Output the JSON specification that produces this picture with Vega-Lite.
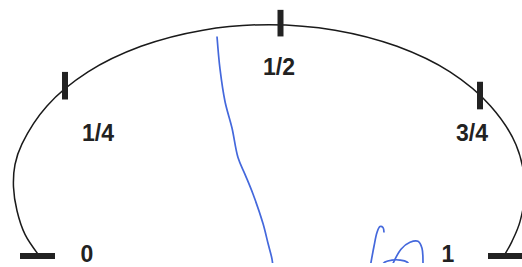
{
  "$schema": "https://vega.github.io/schema/vega-lite/v6.json",
  "width": 522,
  "height": 267,
  "autosize": {"type": "fit", "contains": "padding"},
  "padding": 0,
  "background": "white",
  "config": {"view": {"stroke": null}},
  "datasets": {
    "arc": [
      {"o": 1, "x": 38, "y": 258}, {"o": 2, "x": 25, "y": 238}, {"o": 3, "x": 17, "y": 214},
      {"o": 4, "x": 13.5, "y": 190}, {"o": 5, "x": 15, "y": 167}, {"o": 6, "x": 22, "y": 146},
      {"o": 7, "x": 47, "y": 107.5},
      {"o": 8, "x": 88, "y": 73}, {"o": 9, "x": 141, "y": 47}, {"o": 10, "x": 203, "y": 30.6},
      {"o": 11, "x": 269, "y": 25}, {"o": 12, "x": 335, "y": 30.6}, {"o": 13, "x": 397, "y": 47},
      {"o": 14, "x": 450, "y": 73}, {"o": 15, "x": 490.5, "y": 107.5}, {"o": 16, "x": 516, "y": 147},
      {"o": 17, "x": 525, "y": 190}, {"o": 18, "x": 520, "y": 225}, {"o": 19, "x": 512, "y": 245},
      {"o": 20, "x": 505, "y": 258}
    ],
    "pen": [
      {"s": "a", "o": 1, "x": 217, "y": 37}, {"s": "a", "o": 2, "x": 220, "y": 70},
      {"s": "a", "o": 3, "x": 225, "y": 103}, {"s": "a", "o": 4, "x": 232, "y": 130},
      {"s": "a", "o": 5, "x": 238, "y": 160}, {"s": "a", "o": 6, "x": 245, "y": 177},
      {"s": "a", "o": 7, "x": 253, "y": 197}, {"s": "a", "o": 8, "x": 263, "y": 227},
      {"s": "a", "o": 9, "x": 268, "y": 247}, {"s": "a", "o": 10, "x": 272, "y": 263},
      {"s": "a", "o": 11, "x": 273, "y": 272},
      {"s": "b", "o": 1, "x": 370, "y": 272}, {"s": "b", "o": 2, "x": 374, "y": 250},
      {"s": "b", "o": 3, "x": 377, "y": 236}, {"s": "b", "o": 4, "x": 380, "y": 230},
      {"s": "b", "o": 5, "x": 383, "y": 231}, {"s": "b", "o": 6, "x": 384, "y": 236},
      {"s": "c", "o": 1, "x": 391, "y": 272}, {"s": "c", "o": 2, "x": 401, "y": 253},
      {"s": "c", "o": 3, "x": 410, "y": 246}, {"s": "c", "o": 4, "x": 418, "y": 245},
      {"s": "c", "o": 5, "x": 422, "y": 252}, {"s": "c", "o": 6, "x": 423, "y": 267},
      {"s": "c", "o": 7, "x": 423, "y": 272},
      {"s": "d", "o": 1, "x": 380, "y": 272}, {"s": "d", "o": 2, "x": 385, "y": 266},
      {"s": "d", "o": 3, "x": 392, "y": 264}, {"s": "d", "o": 4, "x": 400, "y": 264},
      {"s": "d", "o": 5, "x": 407, "y": 266}, {"s": "d", "o": 6, "x": 411, "y": 272}
    ],
    "marks": [
      {"x": 20, "x2": 55, "y": 260, "y2": 260},
      {"x": 488, "x2": 522, "y": 260, "y2": 260},
      {"x": 65, "x2": 65, "y": 73, "y2": 101},
      {"x": 280.5, "x2": 280.5, "y": 10, "y2": 37},
      {"x": 480, "x2": 480, "y": 83, "y2": 111}
    ],
    "labels": [
      {"t": "0", "x": 87, "y": 266},
      {"t": "1/4", "x": 98, "y": 143},
      {"t": "1/2", "x": 279, "y": 76},
      {"t": "3/4", "x": 472, "y": 143},
      {"t": "1", "x": 448, "y": 266}
    ]
  },
  "layer": [
    {
      "data": {"name": "arc"},
      "mark": {"type": "line", "interpolate": "catmull-rom", "color": "#1a1a1a", "strokeWidth": 1.5, "clip": true},
      "encoding": {
        "x": {"field": "x", "type": "quantitative", "scale": {"domain": [0, 522], "nice": false, "zero": false}, "axis": null},
        "y": {"field": "y", "type": "quantitative", "scale": {"domain": [0, 267], "nice": false, "zero": false, "reverse": true}, "axis": null},
        "order": {"field": "o"}
      }
    },
    {
      "data": {"name": "pen"},
      "mark": {"type": "line", "interpolate": "catmull-rom", "color": "#4468dc", "strokeWidth": 1.7, "clip": true},
      "encoding": {
        "x": {"field": "x", "type": "quantitative"},
        "y": {"field": "y", "type": "quantitative"},
        "detail": {"field": "s"},
        "order": {"field": "o"}
      }
    },
    {
      "data": {"name": "marks"},
      "mark": {"type": "rule", "color": "#222222", "strokeWidth": 6, "clip": true},
      "encoding": {
        "x": {"field": "x", "type": "quantitative"},
        "x2": {"field": "x2"},
        "y": {"field": "y", "type": "quantitative"},
        "y2": {"field": "y2"}
      }
    },
    {
      "data": {"name": "labels"},
      "mark": {"type": "text", "font": "Liberation Sans", "fontWeight": "bold", "fontSize": 23, "color": "#222222", "align": "center", "baseline": "alphabetic"},
      "encoding": {
        "x": {"field": "x", "type": "quantitative"},
        "y": {"field": "y", "type": "quantitative"},
        "text": {"field": "t"}
      }
    }
  ]
}
